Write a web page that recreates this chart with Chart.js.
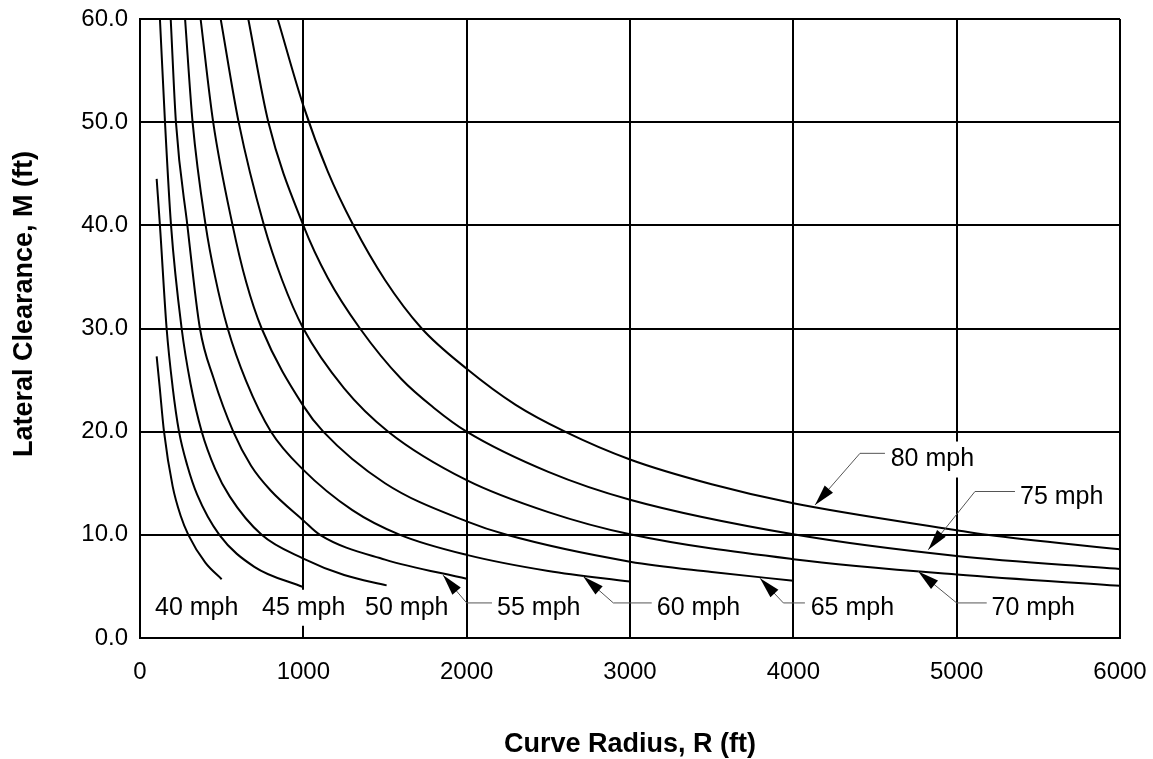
<!DOCTYPE html>
<html>
<head>
<meta charset="utf-8">
<script src="https://cdn.jsdelivr.net/npm/chart.js@4"></script>
<style>
  html, body { margin: 0; padding: 0; background: #fff; }
</style>
</head>
<body>
<canvas id="chart" width="1153" height="759"></canvas>
<script>
// Curve radius R (ft) vs lateral clearance M (ft), one pair of arrays per design speed
const r40 = [102, 120, 147, 200, 250, 296, 400, 500];
const m40 = [27.3, 24.4, 20.0, 14.7, 11.8, 10.0, 7.3, 5.7];

const r45 = [102, 122, 163, 200, 239, 290, 350, 486, 700, 1000];
const m45 = [44.5, 40.0, 30.0, 24.3, 20.0, 16.7, 13.9, 10.0, 6.9, 4.93];

const r50 = [122, 153, 190, 255, 310, 378, 460, 550, 745, 1000, 1250, 1510];
const m50 = [60.0, 50.0, 40.0, 30.0, 24.6, 20.0, 16.4, 13.7, 10.0, 7.7, 6.1, 5.1];

const r55 = [188, 220, 290, 367, 450, 571, 680, 800, 1000, 1102, 1500, 2000];
const m55 = [60.0, 50.0, 40.0, 30.0, 25.2, 20.0, 16.7, 14.3, 11.4, 10.0, 7.6, 5.74];

const r60 = [276, 322, 402, 460, 537, 650, 802, 1000, 1300, 1592, 2000, 2500, 3000];
const m60 = [60.0, 50.0, 40.0, 35.0, 30.0, 24.9, 20.0, 16.3, 12.4, 10.0, 8.06, 6.5, 5.48];

const r65 = [371, 448, 567, 650, 745, 1000, 1122, 1500, 2000, 2245, 3000, 3500, 4000];
const m65 = [60.0, 50.0, 40.0, 34.5, 30.0, 22.5, 20.0, 15.0, 11.3, 10.0, 7.4, 6.4, 5.55];

const r70 = [494, 604, 759, 870, 1000, 1250, 1520, 2000, 2500, 3000, 4000, 5000, 6000];
const m70 = [60.0, 50.0, 40.0, 34.7, 30.0, 24.2, 20.0, 15.3, 12.2, 10.05, 7.64, 6.15, 5.06];

const r75 = [663, 786, 1000, 1150, 1347, 1600, 1800, 2000, 2500, 3000, 4000, 5000, 6000];
const m75 = [60.0, 50.0, 40.0, 34.9, 30.0, 25.1, 22.3, 20.0, 16.1, 13.4, 10.05, 7.95, 6.7];

const r80 = [843, 1000, 1150, 1306, 1500, 1725, 2000, 2300, 2602, 3000, 3500, 4000, 5000, 5185, 6000];
const m80 = [60.0, 51.6, 45.2, 40.0, 34.7, 30.0, 26.1, 22.6, 20.0, 17.3, 14.9, 13.06, 10.45, 10.0, 8.6];

const xTicks = [0, 1000, 2000, 3000, 4000, 5000, 6000];
const yTicks = [0, 10, 20, 30, 40, 50, 60];

const curves = [
  [r40, m40], [r45, m45], [r50, m50], [r55, m55], [r60, m60],
  [r65, m65], [r70, m70], [r75, m75], [r80, m80]
];

// speed labels: text anchor (left edge, middle) and optional leader (arrow tip first), in data units
const callouts = [
  { text: '40 mph', at: [92, 2.93] },
  { text: '45 mph', at: [747, 2.93] },
  { text: '50 mph', at: [1378, 2.93] },
  { text: '55 mph', at: [2186, 2.93], leader: [[1855, 6.1], [2000, 3.4], [2155, 3.4]] },
  { text: '60 mph', at: [3164, 2.93], leader: [[2714, 5.96], [2898, 3.4], [3133, 3.4]] },
  { text: '65 mph', at: [4106, 2.93], leader: [[3796, 5.8], [3939, 3.4], [4071, 3.4]] },
  { text: '70 mph', at: [5214, 2.93], leader: [[4765, 6.45], [5000, 3.4], [5184, 3.4]] },
  { text: '80 mph', at: [4596, 17.3], leader: [[4133, 12.9], [4408, 17.9], [4561, 17.9]] },
  { text: '75 mph', at: [5388, 13.7], leader: [[4826, 8.55], [5112, 14.2], [5357, 14.2]] }
];

const FONT = '"Liberation Sans", Arial, Helvetica, sans-serif';

const calloutPlugin = {
  id: 'callouts',
  afterDatasetsDraw(chart) {
    const ctx = chart.ctx;
    const xs = chart.scales.x;
    const ys = chart.scales.y;
    ctx.save();
    ctx.font = '25px ' + FONT;
    ctx.textBaseline = 'middle';
    ctx.textAlign = 'left';
    callouts.forEach(c => {
      const x = xs.getPixelForValue(c.at[0]);
      const y = ys.getPixelForValue(c.at[1]);
      const w = ctx.measureText(c.text).width;
      ctx.fillStyle = '#fff';
      ctx.fillRect(x - 4, y - 18, w + 8, 36);
      ctx.fillStyle = '#000';
      ctx.fillText(c.text, x, y);
      if (!c.leader) return;
      const pts = c.leader.map(p => [xs.getPixelForValue(p[0]), ys.getPixelForValue(p[1])]);
      ctx.strokeStyle = '#555';
      ctx.lineWidth = 1;
      ctx.beginPath();
      ctx.moveTo(pts[0][0], pts[0][1]);
      pts.slice(1).forEach(p => ctx.lineTo(p[0], p[1]));
      ctx.stroke();
      // arrow head at the tip
      const [tx, ty] = pts[0];
      const ang = Math.atan2(ty - pts[1][1], tx - pts[1][0]);
      const len = 21, half = 5.5;
      const bx = tx - len * Math.cos(ang), by = ty - len * Math.sin(ang);
      ctx.fillStyle = '#000';
      ctx.beginPath();
      ctx.moveTo(tx, ty);
      ctx.lineTo(bx + half * Math.sin(ang), by - half * Math.cos(ang));
      ctx.lineTo(bx - half * Math.sin(ang), by + half * Math.cos(ang));
      ctx.closePath();
      ctx.fill();
    });
    ctx.restore();
  },
  afterDraw(chart) {
    const ctx = chart.ctx;
    const area = chart.chartArea;
    ctx.save();
    ctx.fillStyle = '#000';
    ctx.font = 'bold 27px ' + FONT;
    ctx.textAlign = 'center';
    ctx.textBaseline = 'middle';
    ctx.fillText('Curve Radius, R (ft)', (area.left + area.right) / 2, 745);
    ctx.translate(25, 304);
    ctx.rotate(-Math.PI / 2);
    ctx.fillText('Lateral Clearance, M (ft)', 0, 0);
    ctx.restore();
  }
};

new Chart(document.getElementById('chart'), {
  type: 'scatter',
  data: {
    datasets: curves.map(([rs, ms]) => ({
      data: rs.map((r, i) => ({ x: r, y: ms[i] })),
      showLine: true,
      borderColor: '#000',
      borderWidth: 2,
      pointRadius: 0,
      cubicInterpolationMode: 'monotone'
    }))
  },
  options: {
    responsive: false,
    animation: false,
    devicePixelRatio: 1,
    layout: { padding: { top: 19, right: 33, left: 0, bottom: 0 } },
    plugins: {
      legend: { display: false },
      tooltip: { enabled: false }
    },
    scales: {
      x: {
        type: 'linear',
        min: 0,
        max: 6000,
        afterBuildTicks: s => { s.ticks = xTicks.map(v => ({ value: v })); },
        afterFit: s => { s.height = 121; s.paddingLeft = 0; s.paddingRight = 0; },
        ticks: {
          color: '#000',
          font: { family: FONT, size: 24 },
          padding: 20,
          maxRotation: 0,
          callback: v => String(v)
        },
        grid: { color: '#000', lineWidth: 2, drawTicks: false },
        border: { color: '#000', width: 2 }
      },
      y: {
        min: 0,
        max: 60,
        afterBuildTicks: s => { s.ticks = yTicks.map(v => ({ value: v })); },
        afterFit: s => { s.width = 140; s.paddingTop = 0; s.paddingBottom = 0; },
        ticks: {
          color: '#000',
          font: { family: FONT, size: 24 },
          padding: 12,
          callback: v => v.toFixed(1)
        },
        grid: { color: '#000', lineWidth: 2, drawTicks: false },
        border: { color: '#000', width: 2 }
      }
    }
  },
  plugins: [calloutPlugin]
});
</script>
</body>
</html>
